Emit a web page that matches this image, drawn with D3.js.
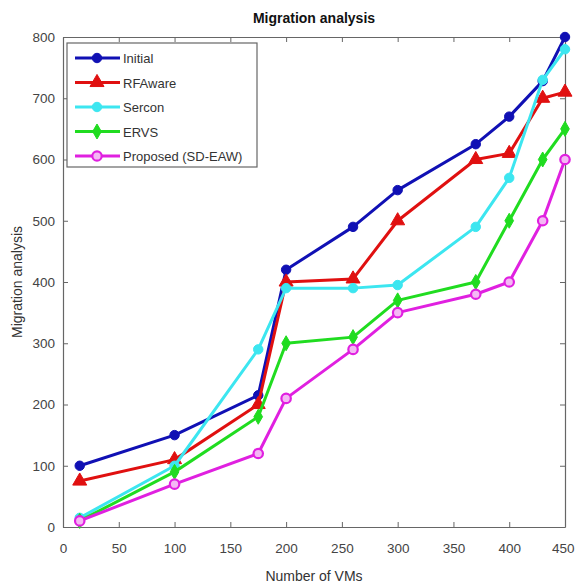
<!DOCTYPE html>
<html>
<head>
<meta charset="utf-8">
<script src="https://cdn.jsdelivr.net/npm/d3@7"></script>
<style>
  body { margin: 0; background: #fff; }
  text { font-family: "Liberation Sans", Arial, sans-serif; }
</style>
</head>
<body>
<div id="chart"></div>
<script>
// data
var vms = [15, 100, 175, 200, 260, 300, 370, 400, 430, 450];
var initial  = [100, 150, 215, 420, 490, 550, 625, 670, 728, 800];
var rfaware  = [75, 110, 200, 400, 405, 500, 600, 610, 700, 710];
var sercon   = [15, 100, 290, 390, 390, 395, 490, 570, 730, 780];
var ervs     = [10, 90, 180, 300, 310, 370, 400, 500, 600, 650];
var proposed = [10, 70, 120, 210, 290, 350, 380, 400, 500, 600];
var xTicks = [0, 50, 100, 150, 200, 250, 300, 350, 400, 450];
var yTicks = [0, 100, 200, 300, 400, 500, 600, 700, 800];

var series = [
  {name: "Initial", values: initial, color: "#1010b4", marker: "circle", fill: "#1010b4"},
  {name: "RFAware", values: rfaware, color: "#e01010", marker: "triangle", fill: "#e01010"},
  {name: "Sercon", values: sercon, color: "#3ce6f0", marker: "circle", fill: "#3ce6f0"},
  {name: "ERVS", values: ervs, color: "#20dc20", marker: "diamond", fill: "#20dc20"},
  {name: "Proposed (SD-EAW)", values: proposed, color: "#e020e0", marker: "circle", fill: "#f4b8f4"}
];

var W = 575, H = 584;
var margin = {top: 37, right: 10, bottom: 57, left: 63};
var width = W - margin.left - margin.right,
    height = H - margin.top - margin.bottom;

var svg = d3.select("#chart").append("svg")
    .attr("width", W)
    .attr("height", H);

var g = svg.append("g")
    .attr("transform", "translate(" + margin.left + "," + margin.top + ")");

var x = d3.scaleLinear().domain([0, 450]).range([0, width]);
var y = d3.scaleLinear().domain([0, 800]).range([height, 0]);

var axisColor = "#666";

// axes with inward ticks, box style
function styleAxis(sel) {
  sel.select(".domain").attr("stroke", axisColor).attr("stroke-width", 1.2);
  sel.selectAll(".tick line").attr("stroke", axisColor);
  sel.selectAll(".tick text").attr("fill", "#444").style("font-size", "13.5px");
}

var xAxis = g.append("g")
    .attr("transform", "translate(0," + height + ")")
    .call(d3.axisBottom(x).tickValues(xTicks).tickSizeInner(-5).tickSizeOuter(0).tickPadding(16))
    .call(styleAxis);
// last label sits at the right edge of the page, keep it inside
xAxis.selectAll(".tick text").filter(function(d) { return d == 450; })
    .attr("text-anchor", "end")
    .attr("dx", "9");

g.append("g")
    .call(d3.axisLeft(y).tickValues(yTicks).tickSizeInner(-5).tickSizeOuter(0).tickPadding(8))
    .call(styleAxis);
g.append("g")
    .call(d3.axisTop(x).tickValues(xTicks).tickSizeInner(-5).tickSizeOuter(0).tickFormat(""))
    .call(styleAxis);
g.append("g")
    .attr("transform", "translate(" + width + ",0)")
    .call(d3.axisRight(y).tickValues(yTicks).tickSizeInner(-5).tickSizeOuter(0).tickFormat(""))
    .call(styleAxis);

// marker shapes
function markerPath(type) {
  if (type == "triangle") return d3.symbol().type(d3.symbolTriangle).size(85)();
  if (type == "diamond") return d3.symbol().type(d3.symbolDiamond).size(65)();
  return d3.symbol().type(d3.symbolCircle).size(70)();
}

var line = d3.line()
    .x(function(d, i) { return x(vms[i]); })
    .y(function(d) { return y(d); });

series.forEach(function(s) {
  g.append("path")
      .datum(s.values)
      .attr("fill", "none")
      .attr("stroke", s.color)
      .attr("stroke-width", 3)
      .attr("stroke-linejoin", "round")
      .attr("d", line);
  g.selectAll(null)
      .data(s.values)
      .enter()
      .append("path")
      .attr("transform", function(d, i) { return "translate(" + x(vms[i]) + "," + y(d) + ")"; })
      .attr("d", markerPath(s.marker))
      .attr("fill", s.fill)
      .attr("stroke", s.color)
      .attr("stroke-width", s.name == "Proposed (SD-EAW)" ? 2.2 : 1);
});

// title and labels
svg.append("text")
    .attr("x", margin.left + width / 2)
    .attr("y", 23)
    .attr("text-anchor", "middle")
    .style("font-size", "14px")
    .style("font-weight", "bold")
    .attr("fill", "#111")
    .text("Migration analysis");

svg.append("text")
    .attr("x", margin.left + width / 2)
    .attr("y", 581)
    .attr("text-anchor", "middle")
    .style("font-size", "14px")
    .attr("fill", "#333")
    .text("Number of VMs");

svg.append("text")
    .attr("transform", "translate(22," + (margin.top + height / 2) + ")rotate(-90)")
    .attr("text-anchor", "middle")
    .style("font-size", "14px")
    .attr("fill", "#333")
    .text("Migration analysis");

// legend
var legend = g.append("g").attr("transform", "translate(4,6)");
legend.append("rect")
    .attr("width", 190)
    .attr("height", 124)
    .attr("fill", "#fff")
    .attr("stroke", axisColor)
    .attr("stroke-width", 1.2);

series.forEach(function(s, i) {
  var ly = 15 + i * 24.5;
  legend.append("line")
      .attr("x1", 8).attr("x2", 53)
      .attr("y1", ly).attr("y2", ly)
      .attr("stroke", s.color)
      .attr("stroke-width", 3);
  legend.append("path")
      .attr("transform", "translate(30," + ly + ")")
      .attr("d", markerPath(s.marker))
      .attr("fill", s.fill)
      .attr("stroke", s.color)
      .attr("stroke-width", s.name == "Proposed (SD-EAW)" ? 2.2 : 1);
  legend.append("text")
      .attr("x", 56)
      .attr("y", ly + 5)
      .style("font-size", "13px")
      .attr("fill", "#333")
      .text(s.name);
});
</script>
</body>
</html>
